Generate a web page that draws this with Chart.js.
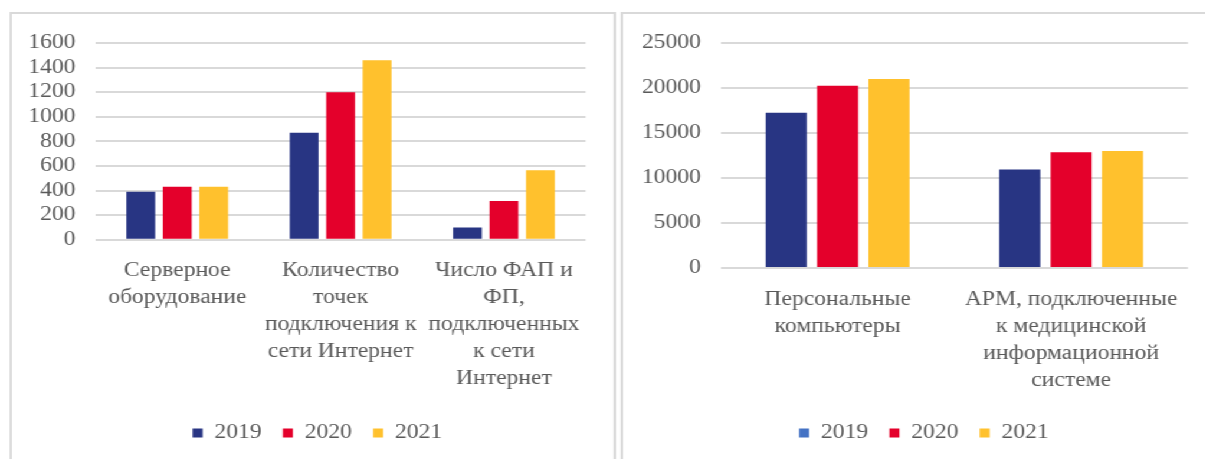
<!DOCTYPE html>
<html><head><meta charset="utf-8">
<script src="https://cdn.jsdelivr.net/npm/chart.js@4"></script>
<style>
html,body{margin:0;padding:0;background:#fff;overflow:hidden;width:1205px;height:459px}
#stage{position:absolute;left:0;top:0;width:1022px;height:459px;transform:scaleX(1.18);transform-origin:0 0}
.panel{position:absolute;box-sizing:border-box;border:2px solid #d9d9d9;background:#fff;overflow:hidden}
#p1{left:7.5px;top:12px;width:514px;height:470px}
#p2{left:526px;top:12px;width:520px;height:470px}
canvas{position:absolute;left:0;top:0}
</style></head>
<body>
<div id="stage">
  <div class="panel" id="p1"><canvas id="c1" width="510" height="445"></canvas></div>
  <div class="panel" id="p2"><canvas id="c2" width="493" height="445"></canvas></div>
</div>
<script>
// ---- data ----
const years = ['2019', '2020', '2021'];
const barColors = ['#283583', '#e4002b', '#ffc12d'];
const rightLegendColors = ['#4472c4', '#e4002b', '#ffc12d'];

const leftCategories = [
  ['Серверное', 'оборудование'],
  ['Количество', 'точек', 'подключения к', 'сети Интернет'],
  ['Число ФАП и', 'ФП,', 'подключенных', 'к сети', 'Интернет']
];
const left2019 = [390, 870, 100];
const left2020 = [430, 1200, 315];
const left2021 = [430, 1460, 565];
const leftMax = 1600;
const leftStep = 200;

const rightCategories = [
  ['Персональные', 'компьютеры'],
  ['АРМ, подключенные', 'к медицинской', 'информационной', 'системе']
];
const right2019 = [17250, 10950];
const right2020 = [20250, 12850];
const right2021 = [21000, 13000];
const rightMax = 25000;
const rightStep = 5000;

// ---- rendering ----
const family = '"Liberation Serif", "Times New Roman", serif';
const font = { family, size: 20, lineHeight: 1.35 };
const yFont = { family, size: 20, lineHeight: 1.2 };
const textColor = '#595959';

// shifts the legend box horizontally so it sits where the reference has it
const legendShift = {
  id: 'legendShift',
  afterLayout(chart, args, opts) {
    const lg = chart.legend;
    if (lg && opts.dx) { lg.left += opts.dx; lg.right += opts.dx; }
  }
};

function makeChart(id, cats, series, yMax, yStep, legendColors, cfg) {
  const datasets = series.map((d, i) => ({
    label: years[i], data: d, backgroundColor: barColors[i], borderWidth: 0,
    categoryPercentage: cfg.catPct, barPercentage: cfg.barPct
  }));
  return new Chart(document.getElementById(id), {
    type: 'bar',
    data: { labels: cats, datasets },
    plugins: [legendShift],
    options: {
      responsive: false, animation: false, devicePixelRatio: 1,
      layout: { padding: { left: cfg.L, right: cfg.R, top: cfg.T, bottom: 6 } },
      plugins: {
        tooltip: { enabled: false },
        legendShift: { dx: cfg.dx },
        legend: {
          position: 'bottom',
          labels: {
            font, color: textColor, boxWidth: 8.5, boxHeight: 9, padding: 18,
            generateLabels(chart) {
              const items = Chart.defaults.plugins.legend.labels.generateLabels(chart);
              items.forEach((it, i) => { it.fillStyle = legendColors[i]; it.strokeStyle = legendColors[i]; it.lineWidth = 0; });
              return items;
            }
          }
        }
      },
      scales: {
        x: {
          grid: { display: false }, border: { display: false },
          ticks: { font, color: textColor, padding: 9.8, maxRotation: 0, autoSkip: false },
          afterFit(s) { s.height = cfg.xH; }
        },
        y: {
          min: 0, max: yMax,
          ticks: { stepSize: yStep, font: yFont, color: textColor, padding: 17, autoSkip: false,
                   callback: v => String(v) },
          grid: { color: '#d9d9d9', lineWidth: 2, drawTicks: false },
          border: { display: false },
          afterFit(s) { s.width = cfg.yW; }
        }
      }
    }
  });
}

makeChart('c1', leftCategories, [left2019, left2020, left2021], leftMax, leftStep, barColors,
  { L: 5, R: 23.7, T: 28.7, yW: 66, xH: 165.3, dx: 13.3, catPct: 0.67, barPct: 0.79 });
makeChart('c2', rightCategories, [right2019, right2020, right2021], rightMax, rightStep, rightLegendColors,
  { L: 5, R: 14.3, T: 28.7, yW: 77.9, xH: 137, dx: 13.1, catPct: 0.66, barPct: 0.8 });
</script>
</body></html>
